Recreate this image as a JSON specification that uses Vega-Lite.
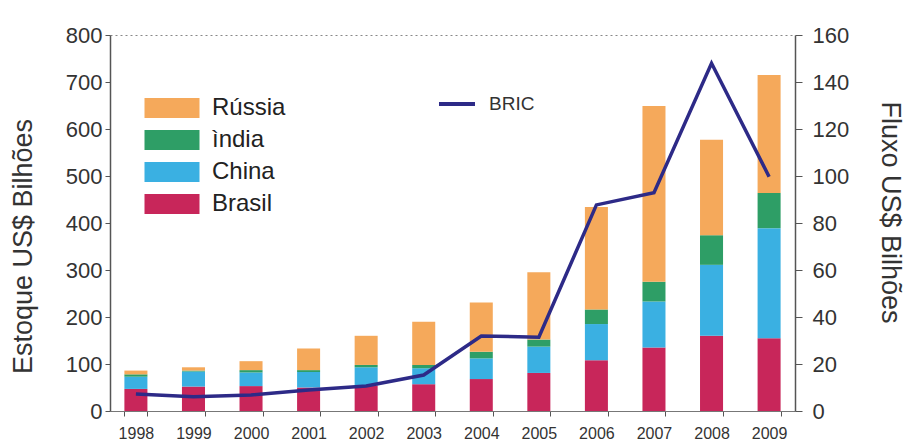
{
  "$schema": "https://vega.github.io/schema/vega-lite/v6.json",
  "width": 685,
  "height": 376,
  "autosize": "none",
  "padding": {"left": 110, "top": 35, "right": 111, "bottom": 36},
  "background": "white",
  "config": {
    "view": {"stroke": null},
    "font": "Liberation Sans",
    "axis": {"labelColor": "#333333", "titleColor": "#333333", "titleFontWeight": "normal", "tickColor": "#555555", "domainColor": "#555555"}
  },
  "datasets": {
    "estoque": [
      {"ano": "1998", "pais": "Brasil", "ordem": 1, "valor": 47}, {"ano": "1998", "pais": "China", "ordem": 2, "valor": 26}, {"ano": "1998", "pais": "ìndia", "ordem": 3, "valor": 5}, {"ano": "1998", "pais": "Rússia", "ordem": 4, "valor": 8},
      {"ano": "1999", "pais": "Brasil", "ordem": 1, "valor": 52}, {"ano": "1999", "pais": "China", "ordem": 2, "valor": 32}, {"ano": "1999", "pais": "ìndia", "ordem": 3, "valor": 2}, {"ano": "1999", "pais": "Rússia", "ordem": 4, "valor": 7},
      {"ano": "2000", "pais": "Brasil", "ordem": 1, "valor": 53}, {"ano": "2000", "pais": "China", "ordem": 2, "valor": 29}, {"ano": "2000", "pais": "ìndia", "ordem": 3, "valor": 5}, {"ano": "2000", "pais": "Rússia", "ordem": 4, "valor": 19},
      {"ano": "2001", "pais": "Brasil", "ordem": 1, "valor": 50}, {"ano": "2001", "pais": "China", "ordem": 2, "valor": 33}, {"ano": "2001", "pais": "ìndia", "ordem": 3, "valor": 4}, {"ano": "2001", "pais": "Rússia", "ordem": 4, "valor": 46},
      {"ano": "2002", "pais": "Brasil", "ordem": 1, "valor": 54}, {"ano": "2002", "pais": "China", "ordem": 2, "valor": 39}, {"ano": "2002", "pais": "ìndia", "ordem": 3, "valor": 5}, {"ano": "2002", "pais": "Rússia", "ordem": 4, "valor": 62},
      {"ano": "2003", "pais": "Brasil", "ordem": 1, "valor": 57}, {"ano": "2003", "pais": "China", "ordem": 2, "valor": 34}, {"ano": "2003", "pais": "ìndia", "ordem": 3, "valor": 7}, {"ano": "2003", "pais": "Rússia", "ordem": 4, "valor": 92},
      {"ano": "2004", "pais": "Brasil", "ordem": 1, "valor": 68}, {"ano": "2004", "pais": "China", "ordem": 2, "valor": 44}, {"ano": "2004", "pais": "ìndia", "ordem": 3, "valor": 14}, {"ano": "2004", "pais": "Rússia", "ordem": 4, "valor": 105},
      {"ano": "2005", "pais": "Brasil", "ordem": 1, "valor": 81}, {"ano": "2005", "pais": "China", "ordem": 2, "valor": 56}, {"ano": "2005", "pais": "ìndia", "ordem": 3, "valor": 15}, {"ano": "2005", "pais": "Rússia", "ordem": 4, "valor": 143},
      {"ano": "2006", "pais": "Brasil", "ordem": 1, "valor": 108}, {"ano": "2006", "pais": "China", "ordem": 2, "valor": 77}, {"ano": "2006", "pais": "ìndia", "ordem": 3, "valor": 31}, {"ano": "2006", "pais": "Rússia", "ordem": 4, "valor": 218},
      {"ano": "2007", "pais": "Brasil", "ordem": 1, "valor": 135}, {"ano": "2007", "pais": "China", "ordem": 2, "valor": 98}, {"ano": "2007", "pais": "ìndia", "ordem": 3, "valor": 42}, {"ano": "2007", "pais": "Rússia", "ordem": 4, "valor": 374},
      {"ano": "2008", "pais": "Brasil", "ordem": 1, "valor": 160}, {"ano": "2008", "pais": "China", "ordem": 2, "valor": 151}, {"ano": "2008", "pais": "ìndia", "ordem": 3, "valor": 63}, {"ano": "2008", "pais": "Rússia", "ordem": 4, "valor": 203},
      {"ano": "2009", "pais": "Brasil", "ordem": 1, "valor": 155}, {"ano": "2009", "pais": "China", "ordem": 2, "valor": 234}, {"ano": "2009", "pais": "ìndia", "ordem": 3, "valor": 75}, {"ano": "2009", "pais": "Rússia", "ordem": 4, "valor": 251}
    ],
    "fluxo": [
      {"ano": "1998", "serie": "BRIC", "fluxo": 7.2}, {"ano": "1999", "serie": "BRIC", "fluxo": 6.1}, {"ano": "2000", "serie": "BRIC", "fluxo": 6.8},
      {"ano": "2001", "serie": "BRIC", "fluxo": 8.9}, {"ano": "2002", "serie": "BRIC", "fluxo": 10.6}, {"ano": "2003", "serie": "BRIC", "fluxo": 15.3},
      {"ano": "2004", "serie": "BRIC", "fluxo": 31.9}, {"ano": "2005", "serie": "BRIC", "fluxo": 31.4}, {"ano": "2006", "serie": "BRIC", "fluxo": 87.7},
      {"ano": "2007", "serie": "BRIC", "fluxo": 92.9}, {"ano": "2008", "serie": "BRIC", "fluxo": 148}, {"ano": "2009", "serie": "BRIC", "fluxo": 99.7}
    ]
  },
  "layer": [
    {
      "data": {"name": "estoque"},
      "mark": {"type": "bar"},
      "encoding": {
        "x": {
          "field": "ano", "type": "ordinal",
          "scale": {"paddingInner": 0.6, "paddingOuter": 0.25},
          "axis": {"title": null, "labelAngle": 0, "labelFontSize": 16, "tickBand": "extent", "tickSize": 5, "labelPadding": 9, "domainColor": "#777777"}
        },
        "y": {
          "field": "valor", "type": "quantitative", "stack": "zero",
          "scale": {"domain": [0, 800]},
          "axis": {
            "title": "Estoque US$ Bilhões", "titleFontSize": 27, "titleAngle": -90, "titleX": -87, "titleY": 211, "titleAlign": "center", "titleBaseline": "middle",
            "values": [0, 100, 200, 300, 400, 500, 600, 700, 800], "labelFontSize": 22, "tickSize": 5, "labelPadding": 3,
            "domainWidth": 1.5,
            "grid": true, "gridColor": "#888888", "gridDash": [2, 3],
            "gridOpacity": {"condition": {"test": "datum.value == 800", "value": 1}, "value": 0}
          }
        },
        "order": {"field": "ordem", "type": "quantitative", "sort": "ascending"},
        "color": {
          "field": "pais", "type": "nominal",
          "scale": {"domain": ["Rússia", "ìndia", "China", "Brasil"], "range": ["#F5A95B", "#2E9E66", "#3AB0E2", "#C8265A"]},
          "legend": {
            "title": null, "orient": "none", "legendX": 50, "legendY": 61, "padding": 0,
            "symbolType": "M-2.75,-1H2.75V1H-2.75Z", "symbolSize": 400, "symbolOpacity": 1, "symbolStrokeWidth": 0,
            "labelFontSize": 24, "labelColor": "#222222", "labelOffset": 28, "rowPadding": 8
          }
        }
      }
    },
    {
      "data": {"name": "fluxo"},
      "mark": {"type": "line", "strokeWidth": 3.5},
      "encoding": {
        "x": {"field": "ano", "type": "ordinal"},
        "y": {
          "field": "fluxo", "type": "quantitative",
          "scale": {"domain": [0, 160]},
          "axis": {
            "orient": "right", "title": "Fluxo US$ Bilhões", "titleFontSize": 27, "titleAngle": 90, "titleX": 94, "titleY": 177, "titleAlign": "center", "titleBaseline": "middle",
            "values": [0, 20, 40, 60, 80, 100, 120, 140, 160], "labelFontSize": 22, "tickSize": 7, "labelPadding": 10, "domainWidth": 1.5, "grid": false
          }
        },
        "stroke": {
          "field": "serie", "type": "nominal",
          "scale": {"domain": ["BRIC"], "range": ["#2D2A87"]},
          "legend": {
            "title": null, "orient": "none", "legendX": 327, "legendY": 49, "padding": 0,
            "symbolType": "stroke", "symbolSize": 1296, "symbolStrokeWidth": 4,
            "labelFontSize": 19, "labelColor": "#333333", "labelOffset": 12
          }
        }
      }
    }
  ],
  "resolve": {"scale": {"y": "independent"}}
}
